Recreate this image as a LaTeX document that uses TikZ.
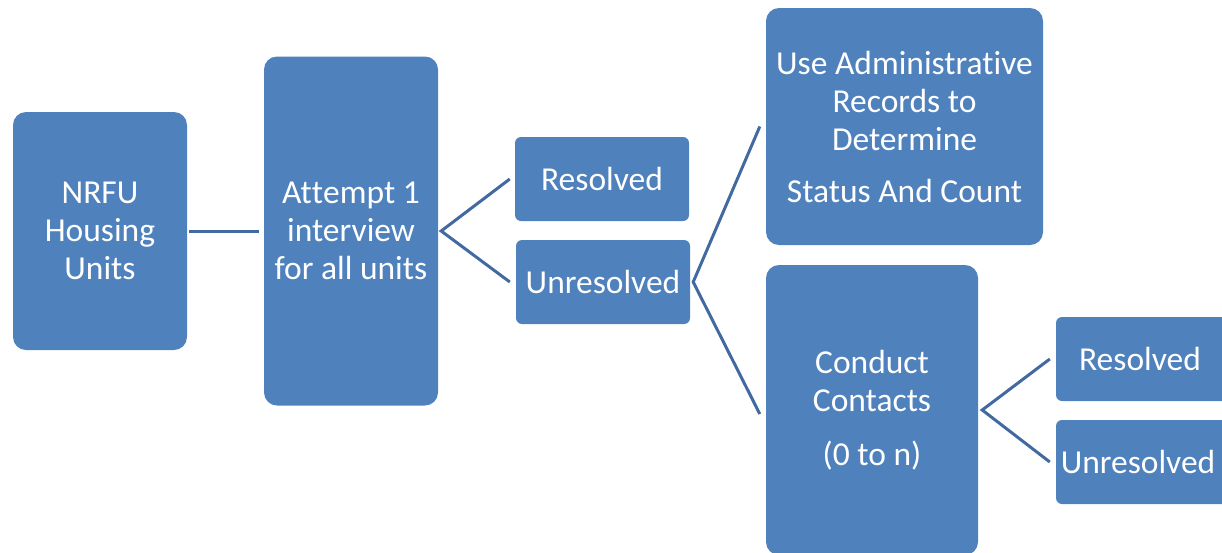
\documentclass[tikz,border=0pt]{standalone}
\usepackage{fontspec}
\setmainfont{Carlito}[Ligatures={NoCommon,NoRequired,NoContextual},Contextuals=NoAlternate]
\newcommand{\nolig}{\kern0pt\relax}
\definecolor{boxfill}{HTML}{4F81BD}
\definecolor{linkcol}{RGB}{66,106,160}
\begin{document}
\begin{tikzpicture}[x=1pt,y=-1pt,
  box/.style={fill=boxfill, draw=none, text=white, align=center,
    inner sep=0pt, font=\fontsize{33.5}{38}\selectfont},
  bigbox/.style={box, rounded corners=13pt},
  smallbox/.style={box, rounded corners=6pt},
  conn/.style={draw=linkcol, line width=3pt}]
\useasboundingbox (0,0) rectangle (1222,552);
\clip (0,0) rectangle (1222,552);
% boxes (centre, width, height)
\node[bigbox, minimum width=174pt, minimum height=238pt] (nrfu) at (100,231) {NRFU\\Housing\\Units};
\node[bigbox, minimum width=174pt, minimum height=349pt] (att) at (351,231) {At\nolig t\nolig empt 1\\interview\\for all units};
\node[smallbox, minimum width=174pt, minimum height=84pt] (res1) at (602,179) {Resolved};
\node[smallbox, minimum width=174pt, minimum height=84pt] (unres1) at (603,282) {Unresolved};
\node[bigbox, minimum width=277pt, minimum height=237pt] (admin) at (904.5,126.5) {Use Administrat\nolig ive\\Records to\\Determine\\[14pt]Status And Count};
\node[bigbox, minimum width=212pt, minimum height=290pt] (cond) at (872,410) {Conduct\\Contacts\\[16pt](0 to n)};
\node[smallbox, minimum width=174pt, minimum height=84pt, text width=174pt] (res2) at (1143,359) {\hspace*{-6pt}Resolved};
\node[smallbox, minimum width=174pt, minimum height=84pt, text width=174pt] (unres2) at (1143,462) {\hspace*{-10pt}Unresolved};
% connectors
\draw[conn] ([xshift=2pt]nrfu.east) -- ([xshift=-5pt]att.west);
\coordinate (f1) at ([xshift=3pt]att.east);
\draw[conn] ([xshift=-5pt]res1.west) -- (f1) -- ([xshift=-6pt]unres1.west);
\coordinate (f2) at ([xshift=3pt]unres1.east);
\draw[conn] ([xshift=-6pt]admin.west) -- (f2) -- ([xshift=-6pt,yshift=-4pt]cond.west);
\coordinate (f3) at ([xshift=4pt]cond.east);
\draw[conn] ([xshift=-6pt]res2.west) -- (f3) -- ([xshift=-6pt]unres2.west);
\end{tikzpicture}
\end{document}
